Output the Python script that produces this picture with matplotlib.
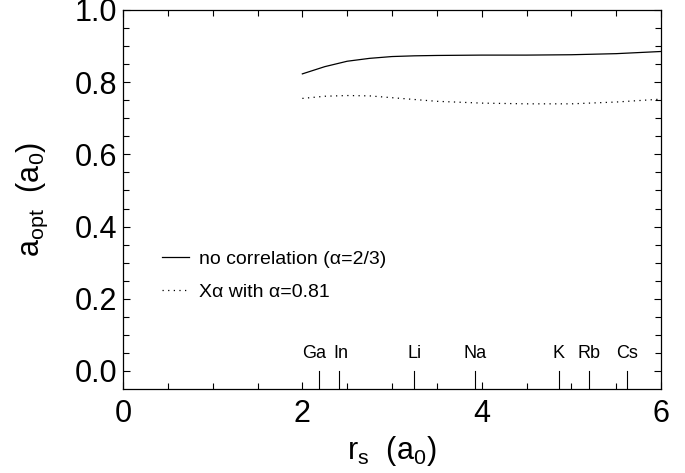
import matplotlib
matplotlib.use("Agg")
import matplotlib.pyplot as plt
import numpy as np

plt.rcParams["font.family"] = ["Liberation Sans", "DejaVu Sans"]
plt.rcParams["mathtext.fontset"] = "custom"
plt.rcParams["mathtext.rm"] = "Liberation Sans"
plt.rcParams["mathtext.it"] = "Liberation Sans"

# optimal a versus r_s
rs = [2.0, 2.25, 2.5, 2.75, 3.0, 3.25, 3.5, 4.0, 4.5, 5.0, 5.5, 6.0]
a_nocorr = [0.823, 0.843, 0.858, 0.866, 0.871, 0.873, 0.874, 0.875, 0.875, 0.876, 0.879, 0.885]
a_xalpha = [0.755, 0.761, 0.763, 0.762, 0.757, 0.752, 0.747, 0.742, 0.740, 0.740, 0.745, 0.753]

# r_s of the metals marked along the bottom
elements = ["Ga", "In", "Li", "Na", "K", "Rb", "Cs"]
elem_rs = [2.19, 2.41, 3.25, 3.93, 4.86, 5.20, 5.62]
label_shift = [-4, 1, 0, 0, 0, 0, 0]  # points, so Ga and In do not touch

fig = plt.figure(figsize=(6.85, 4.73), dpi=100)
ax = fig.add_axes([0.1796, 0.1776, 0.7854, 0.8013])

ax.plot(rs, a_nocorr, color="black", lw=0.9, label="no correlation (\u03b1=2/3)")
ax.plot(rs, a_xalpha, color="black", lw=0.9, ls=(0, (1, 3.5)), label="X\u03b1 with \u03b1=0.81")

for name, x, dx in zip(elements, elem_rs, label_shift):
    ax.plot([x, x], [-0.05, 0.0], color="black", lw=0.8)
    ax.annotate(name, (x, 0.025), xytext=(dx, 0), textcoords="offset points",
                ha="center", va="bottom", fontsize=13)

ax.set_xlim(0, 6)
ax.set_ylim(-0.05, 1.0)
ax.set_xticks([0, 2, 4, 6])
ax.set_xticks(np.arange(0, 6.01, 0.5), minor=True)
ax.set_yticks([0.0, 0.2, 0.4, 0.6, 0.8, 1.0])
ax.set_yticks(np.arange(0, 1.001, 0.05), minor=True)
ax.set_yticklabels(["0.0", "0.2", "0.4", "0.6", "0.8", "1.0"])
ax.tick_params(which="both", direction="in", top=True, right=True, labelsize=22, width=0.8)
ax.tick_params(which="major", length=5, pad=4)
ax.tick_params(which="minor", length=4)
ax.tick_params(axis="x", which="major", pad=7)
for s in ax.spines.values():
    s.set_linewidth(0.9)

ax.set_xlabel(r"r$_\mathrm{s}$  (a$_\mathrm{0}$)", fontsize=22, labelpad=4)
ax.set_ylabel(r"a$_\mathrm{opt}$  (a$_\mathrm{0}$)", fontsize=22, labelpad=18)

ax.legend(loc="upper left", bbox_to_anchor=(0.04, 0.412), frameon=False, fontsize=14,
          handlelength=1.4, handletextpad=0.5, labelspacing=0.8)

fig.savefig("out.png", dpi=100)
